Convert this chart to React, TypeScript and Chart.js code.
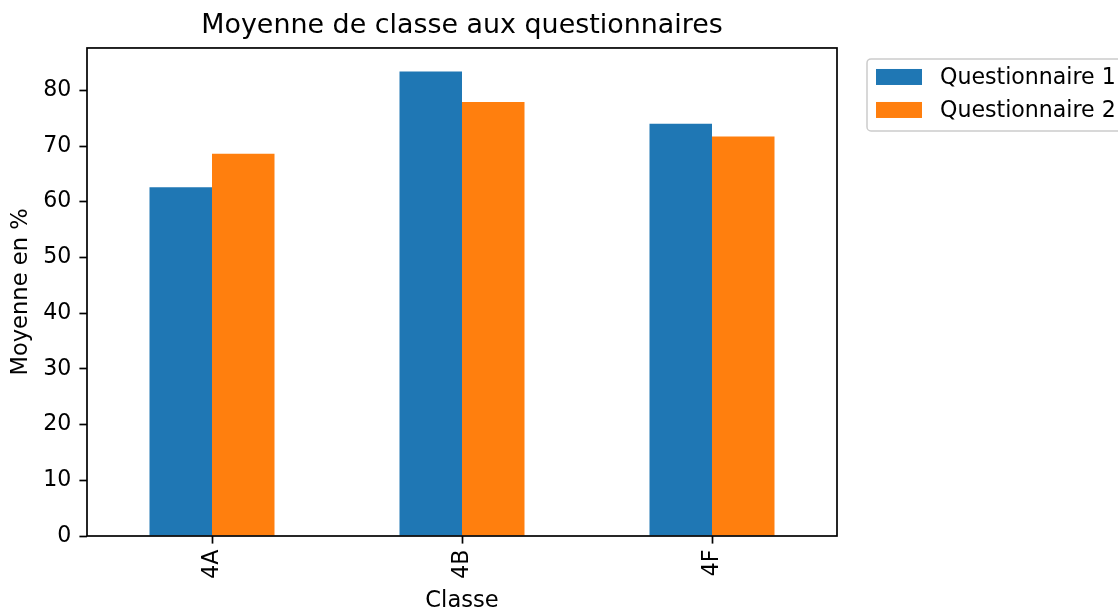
import React, { useEffect, useRef } from "react";
import { Chart, registerables } from "chart.js";

Chart.register(...registerables);

const categories = ["4A", "4B", "4F"];
const questionnaire1 = [62.6, 83.4, 74.0];
const questionnaire2 = [68.6, 77.9, 71.7];
const seriesLabels = ["Questionnaire 1", "Questionnaire 2"];
const seriesColors = ["#1f77b4", "#ff7f0e"];
const yTickValues = [0, 10, 20, 30, 40, 50, 60, 70, 80];
const yAxisMax = 87.6;
const chartTitle = "Moyenne de classe aux questionnaires";
const xAxisTitle = "Classe";
const yAxisTitle = "Moyenne en %";

const FONT = "'DejaVu Sans', sans-serif";
const TICK_SIZE = 22.1;
const AXIS_TITLE_SIZE = 22.6;

const framePlugin = {
  id: "frame",
  afterDatasetsDraw(chart: any) {
    const { ctx, chartArea } = chart;
    ctx.save();
    ctx.strokeStyle = "#000";
    ctx.lineWidth = 1.7;
    ctx.strokeRect(chartArea.left, chartArea.top, chartArea.right - chartArea.left, chartArea.bottom - chartArea.top);
    ctx.restore();
  },
};

const legendPlugin = {
  id: "mplLegend",
  afterDraw(chart: any) {
    const { ctx, chartArea } = chart;
    const x0 = chartArea.right + 30;
    const y0 = chartArea.top + 11;
    ctx.save();
    ctx.beginPath();
    const w = 300;
    const h = 72;
    const r = 4;
    ctx.moveTo(x0 + r, y0);
    ctx.lineTo(x0 + w, y0);
    ctx.lineTo(x0 + w, y0 + h);
    ctx.lineTo(x0 + r, y0 + h);
    ctx.arcTo(x0, y0 + h, x0, y0 + h - r, r);
    ctx.lineTo(x0, y0 + r);
    ctx.arcTo(x0, y0, x0 + r, y0, r);
    ctx.closePath();
    ctx.fillStyle = "rgba(255,255,255,0.8)";
    ctx.fill();
    ctx.strokeStyle = "#cccccc";
    ctx.lineWidth = 1.5;
    ctx.stroke();
    ctx.font = `${TICK_SIZE}px ${FONT}`;
    ctx.textBaseline = "middle";
    ctx.textAlign = "left";
    chart.data.datasets.forEach((ds: any, i: number) => {
      const cy = y0 + 18 + i * 33;
      ctx.fillStyle = ds.backgroundColor;
      ctx.fillRect(x0 + 9, cy - 8, 46, 16);
      ctx.fillStyle = "#000";
      ctx.fillText(ds.label, x0 + 73, cy + 1);
    });
    ctx.restore();
  },
};

export default function App() {
  const canvasRef = useRef<HTMLCanvasElement | null>(null);

  useEffect(() => {
    if (!canvasRef.current) return;
    const chart = new Chart(canvasRef.current, {
      type: "bar",
      data: {
        labels: categories,
        datasets: [
          {
            label: seriesLabels[0],
            data: questionnaire1,
            backgroundColor: seriesColors[0],
            borderWidth: 0,
            categoryPercentage: 0.5,
            barPercentage: 1.0,
          },
          {
            label: seriesLabels[1],
            data: questionnaire2,
            backgroundColor: seriesColors[1],
            borderWidth: 0,
            categoryPercentage: 0.5,
            barPercentage: 1.0,
          },
        ],
      },
      options: {
        responsive: false,
        animation: false,
        layout: { padding: { left: 0, right: 281, top: 0, bottom: 0 } },
        plugins: {
          legend: { display: false },
          tooltip: { enabled: false },
          title: {
            display: true,
            text: chartTitle,
            fullSize: false,
            color: "#000",
            font: { family: FONT, size: 26.9, weight: "normal" },
            padding: { top: 9.5, bottom: 6.2 },
          },
        },
        scales: {
          x: {
            type: "category",
            offset: true,
            border: { display: false },
            grid: {
              display: true,
              offset: false,
              drawOnChartArea: false,
              drawTicks: true,
              tickLength: 7.6,
              tickWidth: 1.7,
              tickColor: "#000",
            },
            ticks: {
              color: "#000",
              font: { family: FONT, size: TICK_SIZE },
              maxRotation: 90,
              minRotation: 90,
              padding: 6,
            },
            title: {
              display: true,
              text: xAxisTitle,
              color: "#000",
              font: { family: FONT, size: AXIS_TITLE_SIZE },
              padding: { top: 0, bottom: -5.5 },
            },
            afterFit(scale: any) {
              scale.height = 73;
            },
          },
          y: {
            type: "linear",
            min: 0,
            max: yAxisMax,
            border: { display: false },
            grid: {
              display: true,
              drawOnChartArea: false,
              drawTicks: true,
              tickLength: 7.6,
              tickWidth: 1.7,
              tickColor: "#000",
            },
            ticks: {
              color: "#000",
              font: { family: FONT, size: TICK_SIZE },
              padding: 8,
            },
            afterBuildTicks(scale: any) {
              scale.ticks = yTickValues.map((v) => ({ value: v }));
            },
            title: {
              display: true,
              text: yAxisTitle,
              color: "#000",
              font: { family: FONT, size: AXIS_TITLE_SIZE },
              padding: { top: 7.5, bottom: 0 },
            },
            afterFit(scale: any) {
              scale.width = 87;
            },
          },
        },
      },
      plugins: [framePlugin, legendPlugin],
    });
    return () => chart.destroy();
  }, []);

  return (
    <div style={{ position: "fixed", left: 0, top: 0, width: 1118, height: 609, background: "#fff" }}>
      <canvas ref={canvasRef} width={1118} height={609} style={{ display: "block" }} />
    </div>
  );
}
